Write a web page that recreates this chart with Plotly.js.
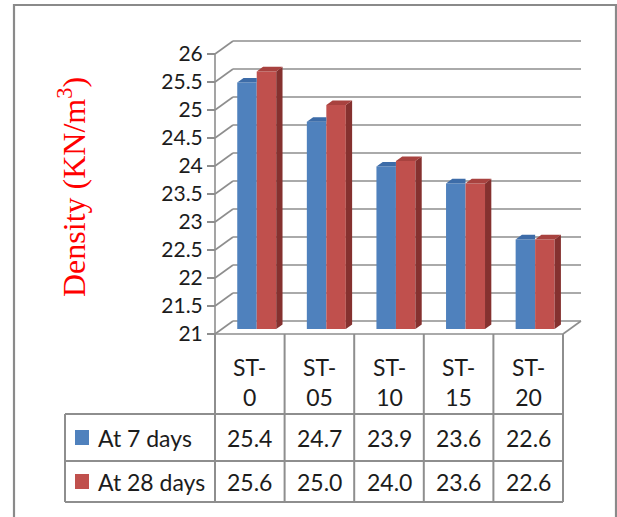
<!DOCTYPE html>
<html>
<head>
<meta charset="utf-8">
<script src="https://cdn.plot.ly/plotly-3.0.1.min.js"></script>
<style>
  html, body { margin: 0; padding: 0; background: #ffffff; }
  #chart { width: 617px; height: 517px; }
</style>
</head>
<body>
<div id="chart"></div>
<script>
// Density of the mixes at 7 and 28 days
const categories = ['ST-0', 'ST-05', 'ST-10', 'ST-15', 'ST-20'];
const seriesNames = ['At 7 days', 'At 28 days'];
const days7 = [25.4, 24.7, 23.9, 23.6, 22.6];
const days28 = [25.6, 25.0, 24.0, 23.6, 22.6];
const yTicks = [21, 21.5, 22, 22.5, 23, 23.5, 24, 24.5, 25, 25.5, 26];

// ---- page geometry (pixels) ----
const W = 617, H = 517;
const FRONT_LEFT_PX = 215;   // x pixel of the front-left corner of the floor
const CAT_PX = 69.6;         // pixels per category
const FLOOR_PX = 334;        // y pixel of the front floor edge (value 21)
const VAL_PX = 56;           // pixels per unit of density
const Y_MIN = yTicks[0], Y_MAX = yTicks[yTicks.length - 1];

// 3-D depth of the box and of the bars, in axis units
const DX = 18 / CAT_PX, DY = 13 / VAL_PX;
const BAR_DEPTH0 = 0.385, BAR_THICK = 0.35;
const BX = DX * BAR_DEPTH0, BY = DY * BAR_DEPTH0;
const TX = DX * BAR_THICK, TY = DY * BAR_THICK;
const BAR_W = 0.28;

const COLORS = {
  blue: '#4F81BD', blueTop: '#3D6CA8',
  red: '#C0504D', redTop: '#A8423F', redSide: '#85312F'
};
const GRID = '#8e8e8e';
const TEXT = '#1c1c1c';

const px = v => v / W;              // x pixel -> paper
const py = v => 1 - v / H;          // y pixel -> paper
const catPx = c => FRONT_LEFT_PX + (c + 0.5) * CAT_PX;

const nCat = categories.length;
const idx = categories.map((_, i) => i);
const xLast = nCat - 0.5;

// ---- bars (front faces) ----
function barTrace(vals, color, offset, name) {
  return {
    type: 'bar', name: name,
    x: idx.map(i => i + BX),
    base: vals.map(() => Y_MIN + BY),
    y: vals.map(v => v - Y_MIN),
    width: BAR_W, offset: offset,
    marker: { color: color, line: { width: 0 } },
    hoverinfo: 'skip', showlegend: false
  };
}

// ---- top and side faces of the bars ----
function polyTrace(polys, color) {
  const xs = [], ys = [];
  polys.forEach(p => {
    p.forEach(pt => { xs.push(pt[0]); ys.push(pt[1]); });
    xs.push(p[0][0]); ys.push(p[0][1]);
    xs.push(null); ys.push(null);
  });
  return {
    type: 'scatter', mode: 'lines', x: xs, y: ys,
    fill: 'toself', fillcolor: color,
    line: { width: 0, color: color },
    hoverinfo: 'skip', showlegend: false
  };
}

const blueTops = days7.map((v, i) => {
  const x0 = i + BX - BAR_W, x1 = i + BX, t = v + BY;
  return [[x0, t], [x1, t], [x1, t + TY], [x0 + TX, t + TY]];
});
const redTops = days28.map((v, i) => {
  const x0 = i + BX, x1 = i + BX + BAR_W, t = v + BY;
  return [[x0, t], [x1, t], [x1 + TX, t + TY], [x0 + TX, t + TY]];
});
const redSides = days28.map((v, i) => {
  const x1 = i + BX + BAR_W, t = v + BY, b = Y_MIN + BY;
  return [[x1, b], [x1, t], [x1 + TX, t + TY], [x1 + TX, b + TY]];
});

const traces = [
  barTrace(days7, COLORS.blue, -BAR_W, seriesNames[0]),
  barTrace(days28, COLORS.red, 0, seriesNames[1]),
  polyTrace(blueTops, COLORS.blueTop),
  polyTrace(redSides, COLORS.redSide),
  polyTrace(redTops, COLORS.redTop)
];

// ---- box: back wall gridlines, depth lines, floor ----
const shapes = [];
const line = (x0, y0, x1, y1, extra) => Object.assign({
  type: 'line', xref: 'x', yref: 'y', x0, y0, x1, y1,
  line: { color: GRID, width: 1.6 }, layer: 'below'
}, extra || {});

yTicks.forEach(v => {
  shapes.push(line(-0.5, v, -0.5 + DX, v + DY));
  shapes.push(line(-0.5 + DX, v + DY, xLast + DX, v + DY));
});
shapes.push(line(xLast, Y_MIN, xLast + DX, Y_MIN + DY));
shapes.push(line(-0.5, Y_MIN, xLast, Y_MIN));
shapes.push(line(-0.5, Y_MIN, -0.5, Y_MAX));

// ---- data table under the plot ----
const TABLE_LEFT = 65, HEAD_BOTTOM = 414, ROW1_BOTTOM = 461, ROW2_BOTTOM = 502;
const tline = (x0, y0, x1, y1) => ({
  type: 'line', xref: 'paper', yref: 'paper',
  x0: px(x0), y0: py(y0), x1: px(x1), y1: py(y1),
  line: { color: GRID, width: 2 }, layer: 'above'
});
for (let i = 0; i <= nCat; i++) {
  const xp = catPx(i - 0.5);
  shapes.push(tline(xp, FLOOR_PX, xp, ROW2_BOTTOM));
}
shapes.push(tline(TABLE_LEFT, HEAD_BOTTOM, TABLE_LEFT, ROW2_BOTTOM));
[HEAD_BOTTOM, ROW1_BOTTOM, ROW2_BOTTOM].forEach(yy => {
  shapes.push(tline(TABLE_LEFT, yy, catPx(xLast), yy));
});

// legend keys inside the table
const rowCenters = [(HEAD_BOTTOM + ROW1_BOTTOM) / 2, (ROW1_BOTTOM + ROW2_BOTTOM) / 2];
[COLORS.blue, COLORS.red].forEach((c, r) => {
  shapes.push({
    type: 'rect', xref: 'paper', yref: 'paper',
    x0: px(75), x1: px(89), y0: py(rowCenters[r] - 7.5), y1: py(rowCenters[r] + 7.5),
    fillcolor: c, line: { width: 0 }, layer: 'above'
  });
});

// outer frame of the chart
shapes.push({
  type: 'rect', xref: 'paper', yref: 'paper',
  x0: px(14), x1: px(616), y0: py(540), y1: py(5),
  line: { color: '#8a8a8a', width: 2.2 }, layer: 'below'
});

// ---- texts ----
const annotations = [];
const tableFont = { family: 'Lato, "Open Sans", sans-serif', size: 23, color: TEXT };

categories.forEach((c, i) => {
  const parts = c.split('-');
  annotations.push({
    xref: 'x', yref: 'paper', x: i, y: py(382),
    text: parts[0] + '-<br>' + parts[1], showarrow: false,
    xanchor: 'center', yanchor: 'middle', align: 'center', font: tableFont
  });
});
[days7, days28].forEach((vals, r) => {
  annotations.push({
    xref: 'paper', yref: 'paper', x: px(96), y: py(rowCenters[r]),
    text: seriesNames[r], showarrow: false,
    xanchor: 'left', yanchor: 'middle', font: tableFont
  });
  vals.forEach((v, i) => {
    annotations.push({
      xref: 'x', yref: 'paper', x: i, y: py(rowCenters[r]),
      text: v.toFixed(1), showarrow: false,
      xanchor: 'center', yanchor: 'middle', font: tableFont
    });
  });
});

annotations.push({
  xref: 'paper', yref: 'paper', x: px(72), y: py(187),
  text: 'Density (KN/m<sup>3</sup>)', showarrow: false, textangle: -90,
  xanchor: 'center', yanchor: 'middle',
  font: { family: '"Liberation Serif", "Times New Roman", serif', size: 32, color: '#ff0000' }
});

const layout = {
  width: W, height: H,
  margin: { l: 0, r: 0, t: 0, b: 0 },
  paper_bgcolor: '#ffffff', plot_bgcolor: 'rgba(0,0,0,0)',
  barmode: 'overlay', showlegend: false,
  xaxis: {
    domain: [0, 1],
    range: [-0.5 - FRONT_LEFT_PX / CAT_PX, -0.5 + (W - FRONT_LEFT_PX) / CAT_PX],
    showgrid: false, zeroline: false, showline: false,
    showticklabels: false, ticks: '', fixedrange: true
  },
  yaxis: {
    domain: [py(340), py(30)],
    range: [Y_MIN - 6 / VAL_PX, Y_MIN + (FLOOR_PX - 30) / VAL_PX],
    anchor: 'free', position: px(FRONT_LEFT_PX), side: 'left',
    tickvals: yTicks, ticktext: yTicks.map(String),
    ticks: 'outside', ticklen: 8, tickwidth: 1.6, tickcolor: GRID,
    tickfont: { family: 'Lato, "Open Sans", sans-serif', size: 21, color: TEXT },
    showgrid: false, zeroline: false, showline: false, fixedrange: true
  },
  shapes: shapes,
  annotations: annotations
};

Plotly.newPlot('chart', traces, layout, { staticPlot: true, displayModeBar: false });
</script>
</body>
</html>
